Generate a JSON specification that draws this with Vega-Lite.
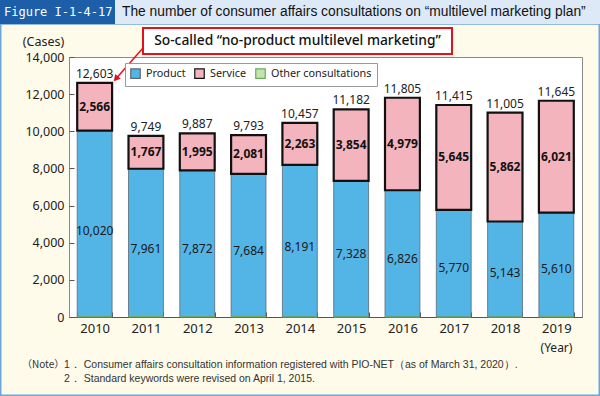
{
  "$schema": "https://vega.github.io/schema/vega-lite/v6.json",
  "width": 513,
  "height": 260,
  "autosize": "none",
  "padding": {"left": 69, "top": 57, "right": 18, "bottom": 79},
  "background": "#fefbea",
  "config": {
    "font": "Noto Sans",
    "view": {"fill": "white", "stroke": "#8a8a8a", "strokeWidth": 1}
  },
  "resolve": {"axis": {"x": "independent", "y": "independent"}},
  "datasets": {
    "consultations": [
      {"year": "2010", "category": "Product", "cases": 10020},
      {"year": "2010", "category": "Service", "cases": 2566},
      {"year": "2010", "category": "Other consultations", "cases": 17},
      {"year": "2011", "category": "Product", "cases": 7961},
      {"year": "2011", "category": "Service", "cases": 1767},
      {"year": "2011", "category": "Other consultations", "cases": 21},
      {"year": "2012", "category": "Product", "cases": 7872},
      {"year": "2012", "category": "Service", "cases": 1995},
      {"year": "2012", "category": "Other consultations", "cases": 20},
      {"year": "2013", "category": "Product", "cases": 7684},
      {"year": "2013", "category": "Service", "cases": 2081},
      {"year": "2013", "category": "Other consultations", "cases": 28},
      {"year": "2014", "category": "Product", "cases": 8191},
      {"year": "2014", "category": "Service", "cases": 2263},
      {"year": "2014", "category": "Other consultations", "cases": 3},
      {"year": "2015", "category": "Product", "cases": 7328},
      {"year": "2015", "category": "Service", "cases": 3854},
      {"year": "2015", "category": "Other consultations", "cases": 0},
      {"year": "2016", "category": "Product", "cases": 6826},
      {"year": "2016", "category": "Service", "cases": 4979},
      {"year": "2016", "category": "Other consultations", "cases": 0},
      {"year": "2017", "category": "Product", "cases": 5770},
      {"year": "2017", "category": "Service", "cases": 5645},
      {"year": "2017", "category": "Other consultations", "cases": 0},
      {"year": "2018", "category": "Product", "cases": 5143},
      {"year": "2018", "category": "Service", "cases": 5862},
      {"year": "2018", "category": "Other consultations", "cases": 0},
      {"year": "2019", "category": "Product", "cases": 5610},
      {"year": "2019", "category": "Service", "cases": 6021},
      {"year": "2019", "category": "Other consultations", "cases": 14}
    ],
    "totals": [
      {"year": "2010", "total": 12603},
      {"year": "2011", "total": 9749},
      {"year": "2012", "total": 9887},
      {"year": "2013", "total": 9793},
      {"year": "2014", "total": 10457},
      {"year": "2015", "total": 11182},
      {"year": "2016", "total": 11805},
      {"year": "2017", "total": 11415},
      {"year": "2018", "total": 11005},
      {"year": "2019", "total": 11645}
    ]
  },
  "layer": [
    {
      "data": {"name": "consultations"},
      "mark": {"type": "bar"},
      "encoding": {
        "x": {
          "field": "year", "type": "nominal",
          "scale": {"paddingInner": 0.32, "paddingOuter": 0.16},
          "axis": {
            "title": "(Year)", "titleX": 487, "titleY": 30, "titleAlign": "center", "titleBaseline": "middle",
            "titleFontSize": 12, "titleFontWeight": "normal", "titleColor": "#222222",
            "labelAngle": 0, "domainColor": "#555555", "tickBand": "extent",
            "tickSize": -5, "tickColor": "#555555", "labelPadding": 10, "labelFontSize": 13,
            "labelColor": "#222222"
          }
        },
        "y": {
          "field": "cases", "type": "quantitative", "stack": "zero",
          "scale": {"domain": [0, 14000], "nice": false},
          "axis": {
            "title": "(Cases)", "titleAngle": 0, "titleX": -26, "titleY": -16, "titleAlign": "center",
            "titleBaseline": "middle", "titleFontSize": 12.5, "titleFontWeight": "normal", "titleColor": "#222222",
            "values": [0, 2000, 4000, 6000, 8000, 10000, 12000, 14000],
            "labelExpr": "format(datum.value, ',')",
            "grid": false, "domain": false, "tickSize": -5, "tickColor": "#555555", "labelPadding": 10,
            "labelFontSize": 12.5, "labelColor": "#222222"
          }
        },
        "fill": {
          "field": "category", "type": "nominal",
          "scale": {"domain": ["Product", "Service", "Other consultations"], "range": ["#53b4e6", "#f4b4be", "#c4e4ae"]},
          "legend": {
            "orient": "none", "legendX": 56, "legendY": 6, "direction": "horizontal", "title": null,
            "fillColor": "white", "strokeColor": "#999999", "padding": 5, "symbolType": "square",
            "symbolSize": 90, "symbolStrokeWidth": 1.2, "labelFontSize": 10.8, "labelColor": "#222222",
            "columnPadding": 6, "labelOffset": 5
          }
        },
        "stroke": {
          "field": "category", "type": "nominal",
          "scale": {"domain": ["Product", "Service", "Other consultations"], "range": ["#5b6a75", "#111111", "#6aaa5c"]},
          "legend": {
            "orient": "none", "legendX": 56, "legendY": 6, "direction": "horizontal", "title": null,
            "fillColor": "white", "strokeColor": "#999999", "padding": 5, "symbolType": "square",
            "symbolSize": 90, "symbolStrokeWidth": 1.2, "labelFontSize": 10.8, "labelColor": "#222222",
            "columnPadding": 6, "labelOffset": 5
          }
        },
        "strokeWidth": {"condition": {"test": "datum.category === 'Service'", "value": 2.2}, "value": 0.8},
        "order": {"field": "category", "sort": "ascending"}
      }
    },
    {
      "data": {"values": [{"part": "figure border"}]},
      "mark": {"type": "rect", "fill": "transparent", "stroke": "#6fa6da", "strokeWidth": 1.5},
      "encoding": {
        "x": {"datum": "2010", "type": "nominal", "bandPosition": -2.1918, "axis": null},
        "x2": {"datum": "2019", "bandPosition": 1.7298},
        "y": {"datum": 15777, "type": "quantitative", "axis": null},
        "y2": {"datum": -4213}
      }
    },
    {
      "data": {"values": [{"part": "figure number"}]},
      "mark": {"type": "rect", "fill": "#1d5ea9"},
      "encoding": {
        "x": {"datum": "2010", "type": "nominal", "bandPosition": -2.25, "axis": null},
        "x2": {"datum": "2010", "bandPosition": 1.0834},
        "y": {"datum": 17200, "type": "quantitative", "axis": null},
        "y2": {"datum": 15777}
      }
    },
    {
      "data": {"values": [{"part": "title band"}]},
      "mark": {"type": "rect", "fill": "#dde9f6"},
      "encoding": {
        "x": {"datum": "2010", "type": "nominal", "bandPosition": 1.0834, "axis": null},
        "x2": {"datum": "2019", "bandPosition": 1.8},
        "y": {"datum": 17200, "type": "quantitative", "axis": null},
        "y2": {"datum": 15777}
      }
    },
    {
      "data": {"values": [{"label": "Figure I-1-4-17"}]},
      "mark": {"type": "text", "align": "left", "baseline": "middle", "font": "DejaVu Sans Mono", "fontSize": 12, "color": "white"},
      "encoding": {
        "x": {"datum": "2010", "type": "nominal", "bandPosition": -2.0986, "axis": null},
        "y": {"datum": 16423, "type": "quantitative", "axis": null},
        "text": {"field": "label"}
      }
    },
    {
      "data": {"values": [{"label": "The number of consumer affairs consultations on “multilevel marketing plan”"}]},
      "mark": {"type": "text", "align": "left", "baseline": "middle", "font": "Liberation Sans", "fontSize": 13.8, "color": "#111111"},
      "encoding": {
        "x": {"datum": "2010", "type": "nominal", "bandPosition": 1.284, "axis": null},
        "y": {"datum": 16423, "type": "quantitative", "axis": null},
        "text": {"field": "label"}
      }
    },
    {
      "data": {"name": "consultations"},
      "mark": {"type": "text", "baseline": "middle", "fontSize": 12, "color": "#1a1a1a"},
      "encoding": {
        "x": {"field": "year", "type": "nominal", "axis": null},
        "y": {"field": "cases", "type": "quantitative", "stack": "zero", "bandPosition": 0.46, "axis": null},
        "detail": {"field": "category"},
        "order": {"field": "category", "sort": "ascending"},
        "text": {"condition": {"test": "datum.category !== 'Product'", "value": ""}, "field": "cases", "type": "quantitative", "format": ","}
      }
    },
    {
      "data": {"name": "consultations"},
      "mark": {"type": "text", "baseline": "middle", "fontSize": 12, "fontWeight": "bold", "color": "#111111"},
      "encoding": {
        "x": {"field": "year", "type": "nominal", "axis": null},
        "y": {"field": "cases", "type": "quantitative", "stack": "zero", "bandPosition": 0.5, "axis": null},
        "detail": {"field": "category"},
        "order": {"field": "category", "sort": "ascending"},
        "text": {"condition": {"test": "datum.category !== 'Service'", "value": ""}, "field": "cases", "type": "quantitative", "format": ","}
      }
    },
    {
      "data": {"name": "totals"},
      "mark": {"type": "text", "baseline": "bottom", "dy": -2, "fontSize": 12, "color": "#222222"},
      "encoding": {
        "x": {"field": "year", "type": "nominal", "axis": null},
        "y": {"field": "total", "type": "quantitative", "axis": null},
        "text": {"field": "total", "type": "quantitative", "format": ","}
      }
    },
    {
      "data": {"values": [{"label": "So-called “no-product multilevel marketing”"}]},
      "mark": {"type": "rect", "fill": "white", "stroke": "#e60f1e", "strokeWidth": 2},
      "encoding": {
        "x": {"datum": "2011", "type": "nominal", "bandPosition": 0.4154, "axis": null},
        "x2": {"datum": "2017", "bandPosition": 0.4498},
        "y": {"datum": 15562, "type": "quantitative", "axis": null},
        "y2": {"datum": 14162}
      }
    },
    {
      "data": {"values": [{"label": "So-called “no-product multilevel marketing”"}]},
      "mark": {"type": "text", "align": "center", "baseline": "middle", "fontSize": 13.8, "fontWeight": 500, "color": "#111111"},
      "encoding": {
        "x": {"datum": "2014", "type": "nominal", "bandPosition": 0.4326, "axis": null},
        "y": {"datum": 14862, "type": "quantitative", "axis": null},
        "text": {"field": "label"}
      }
    },
    {
      "data": {"values": [{"label": "arrow"}]},
      "mark": {"type": "rule", "color": "#e60f1e", "strokeWidth": 1.5},
      "encoding": {
        "x": {"datum": "2011", "type": "nominal", "bandPosition": 0.4154, "axis": null},
        "x2": {"datum": "2010", "bandPosition": 1.129},
        "y": {"datum": 14485, "type": "quantitative", "axis": null},
        "y2": {"datum": 12869}
      }
    },
    {
      "data": {"values": [{"label": "arrowhead"}]},
      "mark": {"type": "point", "shape": "triangle", "filled": true, "color": "#e60f1e", "size": 55, "angle": 221, "opacity": 1},
      "encoding": {
        "x": {"datum": "2010", "type": "nominal", "bandPosition": 1.129, "axis": null},
        "y": {"datum": 12869, "type": "quantitative", "axis": null}
      }
    },
    {
      "data": {"values": [{"label": "（Note）"}]},
      "mark": {"type": "text", "align": "left", "baseline": "middle", "font": "Noto Sans CJK JP", "fontSize": 10, "color": "#333333"},
      "encoding": {
        "x": {"datum": "2010", "type": "nominal", "bandPosition": -1.5826, "axis": null},
        "y": {"datum": -2585, "type": "quantitative", "axis": null},
        "text": {"field": "label"}
      }
    },
    {
      "data": {"values": [{"label": "1． Consumer affairs consultation information registered with PIO-NET（as of March 31, 2020）."}]},
      "mark": {"type": "text", "align": "left", "baseline": "middle", "font": "Liberation Sans", "fontSize": 10.5, "color": "#333333"},
      "encoding": {
        "x": {"datum": "2010", "type": "nominal", "bandPosition": -0.3786, "axis": null},
        "y": {"datum": -2585, "type": "quantitative", "axis": null},
        "text": {"field": "label"}
      }
    },
    {
      "data": {"values": [{"label": "2． Standard keywords were revised on April 1, 2015."}]},
      "mark": {"type": "text", "align": "left", "baseline": "middle", "font": "Liberation Sans", "fontSize": 10.5, "color": "#333333"},
      "encoding": {
        "x": {"datum": "2010", "type": "nominal", "bandPosition": -0.3786, "axis": null},
        "y": {"datum": -3338, "type": "quantitative", "axis": null},
        "text": {"field": "label"}
      }
    }
  ]
}
